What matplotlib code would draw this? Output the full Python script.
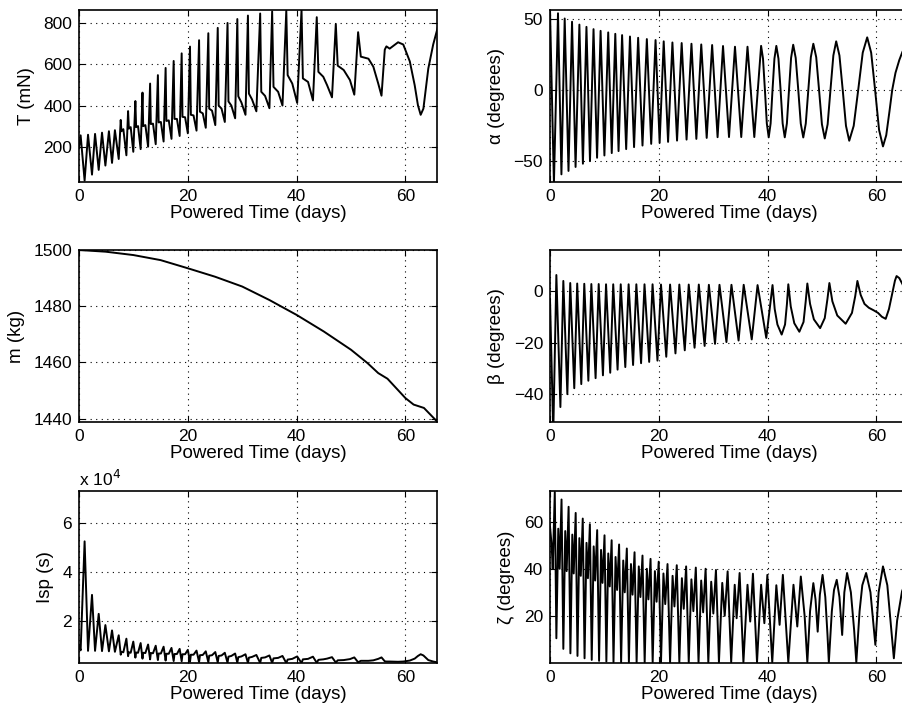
import numpy as np
import matplotlib
matplotlib.use("Agg")
import matplotlib.pyplot as plt
from matplotlib.ticker import FuncFormatter

plt.rcParams["font.family"] = ["Liberation Sans", "DejaVu Sans"]
plt.rcParams["font.size"] = 12.5

# ---------------------------------------------------------------------------
# Values (time in powered days)

# thrust T (mN)
T_t = [0.0, 0.3, 1.03, 1.66, 2.39, 2.95, 3.62, 4.23, 4.85, 5.5, 6.07, 6.6, 7.3,
       7.67, 7.8, 8.15, 8.71, 9.02, 9.17, 9.5, 9.98, 10.36, 10.5, 10.85, 11.33,
       11.67, 11.8, 12.2, 12.7, 13.07, 13.2, 13.6, 14.1, 14.5, 14.64, 15.05, 15.55,
       15.92, 16.06, 16.5, 17.0, 17.4, 17.55, 18.0, 18.5, 18.87, 19.02, 19.5, 20.0,
       20.4, 20.56, 21.05, 21.6, 22.07, 22.23, 22.75, 23.3, 23.77, 23.93, 24.45, 25.05,
       25.5, 25.67, 26.2, 26.8, 27.3, 27.47, 28.0, 28.7, 29.1, 29.28, 29.85, 30.6,
       31.05, 31.23, 31.8, 32.6, 33.3, 33.5, 34.2, 35.0, 35.5, 35.75, 36.6, 37.4,
       38.1, 38.35, 39.2, 40.1, 40.9, 41.15, 42.1, 43.0,
       43.7, 44.0, 44.9, 45.6, 46.5, 47.2, 47.55, 48.65, 49.8, 50.6,
       51.3, 51.8, 53.2, 54.1, 55.0, 55.6, 56.2, 56.5, 57.1, 58.65, 59.6, 60.8,
       61.7, 62.3, 62.8, 63.3, 64.2, 65.1, 66.0]
T_mN = [195, 255, 35, 258, 64, 262, 87, 268, 108, 275, 121, 280, 140,
        330, 275, 285, 158, 373, 288, 295, 175, 422, 295, 300, 188,
        463, 300, 305, 200, 507, 310, 312, 212, 548, 318, 320, 225,
        583, 325, 328, 238, 617, 335, 335, 252, 654, 345, 343, 265,
        687, 355, 352, 278, 718, 370, 362, 292, 752, 385, 375, 305,
        778, 400, 385, 320, 802, 420, 400, 338, 821, 445, 415, 355,
        838, 458, 430, 372, 848, 467, 447, 387, 858, 491, 467, 400,
        862, 548, 507, 413, 866, 532, 515, 425,
        830, 564, 540, 499, 440, 797, 594, 573, 524, 453,
        757, 638, 628, 589, 507, 448, 672, 688, 677, 708, 697, 615,
        499, 401, 355, 385, 580, 697, 786]

# specific impulse Isp (s), sampled at the same times as T
Isp_s = [10000, 7800, 52600, 7600, 30600, 7600, 22800, 7500, 18200, 7400, 16000, 7200, 14000,
         6000, 7200, 7000, 12600, 5400, 7000, 6800, 11400, 4800, 6900, 6800, 10800,
         4400, 6800, 6700, 10200, 4100, 6700, 6600, 9700, 3800, 6500, 6500, 9300,
         3600, 6400, 6400, 8800, 3400, 6300, 6300, 8400, 3300, 6200, 6200, 8000,
         3100, 6000, 6000, 7700, 3000, 5800, 5900, 7400, 2900, 5600, 5800, 7100,
         2800, 5500, 5700, 6800, 2700, 5200, 5500, 6500, 2700, 5000, 5300, 6200,
         2600, 4800, 5100, 5900, 2600, 4700, 4900, 5700, 2600, 4500, 4700, 5500,
         2600, 4000, 4300, 5300, 2600, 4100, 4300, 5200,
         2700, 3900, 4100, 4400, 5000, 2800, 3700, 3800, 4200, 4900,
         2900, 3500, 3500, 3700, 4300, 4900, 3300, 3200, 3200, 3100, 3200, 3600,
         4400, 5500, 6200, 5700, 3800, 3200, 2800]

# mass m (kg)
m_t = [0, 4.9, 10, 15, 20, 25, 30, 35, 40, 45, 50, 53, 55, 56.7, 60, 61.5, 63.4, 65.8]
m_kg = [1500, 1499.4, 1498.2, 1496.4, 1493.5, 1490.5, 1487, 1482.2, 1476.9, 1471,
        1464.5, 1459.8, 1456.2, 1454.2, 1447.3, 1445, 1443.8, 1439]

# thrust angle alpha (degrees)
alpha_t = [0, 0.72, 1.47, 2.1, 2.7, 3.4, 4.05, 4.7, 5.4, 6.05, 6.7, 7.35, 8.0, 8.65,
           9.3, 10.0, 10.7, 11.35, 12.0, 12.6, 13.25, 14.0, 14.7, 15.45, 16.2, 17.0,
           17.8, 18.6, 19.4, 20.15, 20.9, 21.7, 22.5, 23.35, 24.2, 25.1, 26.0, 26.9,
           27.8, 28.8, 29.8, 30.8, 31.8, 32.9, 34.0, 35.15, 36.3, 37.55, 38.8,
           39.15, 39.5, 39.85, 40.2, 40.55, 40.9, 41.25, 41.6,
           41.99, 42.38, 42.76, 43.15, 43.54, 43.93, 44.31, 44.7,
           45.16, 45.63, 46.09, 46.55, 47.01, 47.48, 47.94, 48.4,
           48.93, 49.45, 49.98, 50.5, 51.03, 51.55, 52.08, 52.6,
           53.2, 53.8, 54.4, 55.0, 55.82, 56.65, 57.48, 58.3,
           59.03, 59.75, 60.48, 61.2, 61.8, 62.4, 62.9, 63.5, 64.2, 64.8, 65.8]
alpha_deg = [56, -66, 54, -59.6, 50.3, -57.2, 48, -54.4, 46, -52.1, 44.4, -50.2, 42.8, -47.9,
             41.6, -46.3, 40.5, -44.6, 39.5, -43.2, 38.6, -41.8, 37.6, -40.4, 36.7, -39.3,
             35.8, -38.1, 35.1, -37.4, 34.2, -36.7, 33.4, -35.8, 33, -35.1, 32.5, -34.6,
             32, -33.9, 31.6, -33.4, 30.9, -33.3, 30.4, -33.3, 30.4, -33.3, 31,
             22, 0, -23.7, -33.5, -23.7, 0, 22, 31,
             22, 0, -23.7, -33.5, -23.7, 0, 22.5, 31.8,
             22.5, 0, -23.8, -33.6, -23.8, 0, 23, 32.5,
             23, 0, -24.3, -34.3, -24.3, 0, 24.2, 34.2,
             24.2, 0, -25.4, -35.9, -25.4, 0, 26.2, 37,
             26.2, 0, -28.2, -39.9, -32, -15, 0, 12, 21, 27, 33]

# thrust angle beta (degrees)
beta_t = [0, 0.6, 1.17, 1.91, 2.45, 3.19, 3.72, 4.46, 5.0, 5.75, 6.3, 7.05, 7.6, 8.38,
          8.95, 9.73, 10.3, 11.07, 11.62, 12.42, 13.0, 13.84, 14.45, 15.27, 15.87, 16.74,
          17.37, 18.23, 18.85, 19.75, 20.4, 21.37, 22.07, 23.06, 23.77, 24.77, 25.5, 26.57,
          27.35, 28.42, 29.2, 30.33, 31.15, 32.43, 33.35, 34.66, 35.6, 37.08, 38.15, 39.75,
          40.9, 41.3, 41.8, 42.58, 43.2, 43.55, 43.8,
          44.25, 44.9, 45.83, 46.6, 47.0, 47.3,
          47.8, 48.5, 49.65, 50.5, 51.0, 51.35,
          51.9, 52.8, 54.34, 55.5, 56.1, 56.5,
          57.1, 57.8, 58.6, 59.5, 60.3, 61.0, 61.7, 62.3, 62.9, 63.4, 63.7, 64.2, 64.8, 65.8]
beta_deg = [-3, -55, 6.2, -45, 3.9, -40, 3.1, -37.7, 2.9, -36.1, 2.8, -34.8, 2.7, -33.8,
            2.7, -32.7, 2.6, -31.7, 2.6, -30.5, 2.6, -29.5, 2.6, -28.7, 2.6, -28,
            2.6, -27.5, 2.6, -27, 2.5, -25.5, 2.5, -24.2, 2.5, -23, 2.5, -22,
            2.5, -21.3, 2.4, -20.5, 2.4, -19.8, 2.4, -19.2, 2.4, -18.8, 2.3, -18.2,
            2.3, -7, -13, -16.9, -13, -5, 2.6,
            -6, -12.5, -15.8, -12, -4, 2.9,
            -5, -11, -14.4, -10.5, -3, 3.1,
            -4, -9.5, -12.7, -8.5, -2, 3.9,
            -1.5, -5, -6.5, -7.5, -8.5, -10, -10.8, -7, -1, 4, 5.8, 5, 2.6, -3]

# cone angle zeta (degrees)
zeta_t = [0, 0.3, 0.5, 0.88, 1.17,
          1.52, 1.77, 2.12, 2.45, 2.80, 3.06, 3.42, 3.75, 4.10, 4.36, 4.72, 5.05,
          5.40, 5.66, 6.02, 6.35, 6.71, 6.97, 7.33, 7.67, 8.03, 8.30, 8.67, 9.02,
          9.38, 9.65, 10.02, 10.36, 10.71, 10.98, 11.33, 11.67, 12.05, 12.33, 12.7, 13.07,
          13.46, 13.74, 14.12, 14.5, 14.88, 15.17, 15.54, 15.92, 16.32, 16.62, 17.0, 17.4,
          17.8, 18.09, 18.48, 18.87, 19.28, 19.59, 19.98, 20.4, 20.85, 21.18, 21.6, 22.07,
          22.53, 22.87, 23.3, 23.77, 24.24, 24.58, 25.02, 25.5, 25.99, 26.35, 26.8, 27.3,
          27.79, 28.15, 28.6, 29.1, 29.63, 30.02, 30.5, 31.05, 31.66, 32.11, 32.65, 33.3,
          33.95, 34.3, 34.85, 35.55, 36.3, 36.8, 37.3, 38.05, 38.8, 39.4, 39.95, 40.85,
          41.6, 42.2, 42.8, 43.8, 44.75, 45.45, 46.1, 46.8, 47.3,
          47.8, 48.4, 48.8, 49.2, 49.6, 50.1, 50.6, 51.0, 51.25,
          51.8, 52.2, 52.7, 53.2, 53.7, 54.1, 54.6, 55.3, 55.9, 56.3,
          56.9, 57.4, 58.1, 58.9, 59.8, 60.4, 61.2, 62.0, 62.7, 63.2, 63.8, 64.7, 65.8]
zeta_deg = [58, 50, 40, 72.6, 10.5,
            57, 40, 69.4, 6, 56, 39, 66.3, 4.1, 54.5, 38, 63.7, 3,
            53, 37, 61.3, 2, 51, 36, 58.9, 1.3, 49.5, 35, 56.4, 0.9,
            48, 34, 54.2, 0.6, 46.5, 32.5, 52.1, 0.3, 45, 31, 50.3, 0.2,
            43.5, 30, 48.6, 0.2, 42, 29, 47, 0.2, 41, 28, 45.6, 0.2,
            40, 27, 44.2, 0.2, 39, 26, 43, 0.2, 38, 25, 42, 0.2,
            37, 24, 41.5, 0.2, 36, 23, 41, 0.2, 35.5, 22, 40.5, 0.2,
            35, 21.5, 40, 0.2, 34.5, 21, 39.5, 0.2, 34, 20, 38.9, 0.3,
            33.2, 19, 38.2, 0.3, 33.2, 17.6, 37.9, 0.3, 33.2, 16.9, 37.4, 0.3,
            33, 16.2, 37.4, 0.3, 33.2, 15.5, 36.7, 20, 0.3,
            22, 33.9, 27, 13.3, 29, 37.4, 28, 12, 0.3,
            22, 31, 35.3, 28, 11.9, 30, 38.2, 30, 14, 0.3,
            22, 33, 38.2, 30, 7.7, 30, 41, 33, 15, 2, 18, 30.4, 37]

X_MAX = 65.8


# ---------------------------------------------------------------------------
def style(ax, ylim, yticks, ylabel):
    ax.set_xlim(0, X_MAX)
    ax.set_ylim(*ylim)
    ax.set_xticks([0, 20, 40, 60])
    ax.set_yticks(yticks)
    ax.set_xlabel("Powered Time (days)", fontsize=13.5, labelpad=1)
    ax.set_ylabel(ylabel, fontsize=13.5, labelpad=6)
    ax.grid(True, color="k", linestyle=(0, (1, 4)), linewidth=0.8)
    ax.set_axisbelow(True)
    ax.tick_params(direction="in", length=4, width=0.8, pad=5,
                   top=True, right=True, labelsize=12.5)
    for s in ax.spines.values():
        s.set_linewidth(1.2)


fig = plt.figure(figsize=(9.02, 7.15), dpi=100)

W, H = 902.0, 715.0
col_x = [79 / W, 550 / W]
row_y = [1 - 182 / H, 1 - 422 / H, 1 - 663 / H]
aw, ah = 358 / W, 172 / H

axT = fig.add_axes([col_x[0], row_y[0], aw, ah])
axA = fig.add_axes([col_x[1], row_y[0], aw, ah])
axM = fig.add_axes([col_x[0], row_y[1], aw, ah])
axB = fig.add_axes([col_x[1], row_y[1], aw, ah])
axI = fig.add_axes([col_x[0], row_y[2], aw, ah])
axZ = fig.add_axes([col_x[1], row_y[2], aw, ah])

lw = 1.4
axT.plot(T_t, T_mN, color="k", lw=lw)
style(axT, (28, 865), [200, 400, 600, 800], "T (mN)")

axA.plot(alpha_t, alpha_deg, color="k", lw=lw)
style(axA, (-65, 56.3), [-50, 0, 50], "\u03b1 (degrees)")

axM.plot(m_t, m_kg, color="k", lw=lw)
style(axM, (1438.8, 1500), [1440, 1460, 1480, 1500], "m (kg)")

axB.plot(beta_t, beta_deg, color="k", lw=lw)
style(axB, (-50.8, 15.9), [-40, -20, 0], "\u03b2 (degrees)")

axI.plot(T_t, Isp_s, color="k", lw=lw)
style(axI, (2600, 73300), [20000, 40000, 60000], "Isp (s)")
axI.yaxis.set_major_formatter(FuncFormatter(lambda v, p: f"{v / 1e4:g}"))
axI.text(0.0, 1.01, r"x 10$^{4}$", transform=axI.transAxes,
         ha="left", va="bottom", fontsize=12.5)

axZ.plot(zeta_t, zeta_deg, color="k", lw=lw)
style(axZ, (0, 73), [20, 40, 60], "\u03b6 (degrees)")

fig.savefig("out.png", dpi=100)
